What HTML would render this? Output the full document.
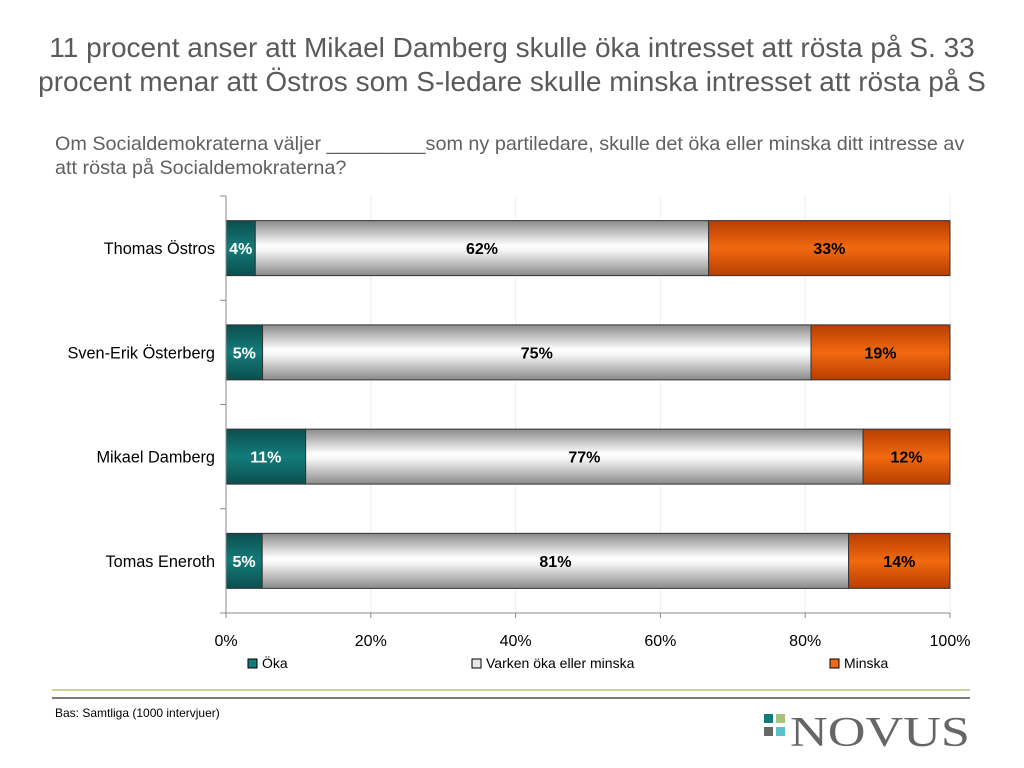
<!DOCTYPE html>
<html><head><meta charset="utf-8"><style>
body{margin:0;width:1024px;height:768px;background:#fff;font-family:"Liberation Sans",sans-serif;position:relative;overflow:hidden}
.t{position:absolute;left:0;width:1024px;text-align:center;top:31px;font-size:28px;line-height:34px;color:#5a5a5a;white-space:nowrap}
.q{position:absolute;left:55px;top:132px;font-size:19.8px;line-height:24px;color:#606060;width:960px;white-space:nowrap}
</style></head><body>
<div class="t">11 procent anser att Mikael Damberg skulle öka intresset att rösta på S. 33<br>procent menar att Östros som S-ledare skulle minska intresset att rösta på S</div>
<div class="q">Om Socialdemokraterna väljer _________som ny partiledare, skulle det öka eller minska ditt intresse av<br>att rösta på Socialdemokraterna?</div>
<svg id="chart" width="1024" height="768" style="position:absolute;left:0;top:0">
<defs>
<linearGradient id="gT" x1="0" y1="0" x2="0" y2="1"><stop offset="0" stop-color="#0b4f4f"/><stop offset="0.5" stop-color="#137c7a"/><stop offset="1" stop-color="#0b4f4f"/></linearGradient>
<linearGradient id="gG" x1="0" y1="0" x2="0" y2="1"><stop offset="0" stop-color="#8a8a8a"/><stop offset="0.45" stop-color="#ffffff"/><stop offset="0.55" stop-color="#f4f4f4"/><stop offset="1" stop-color="#8a8a8a"/></linearGradient>
<linearGradient id="gO" x1="0" y1="0" x2="0" y2="1"><stop offset="0" stop-color="#b83d00"/><stop offset="0.5" stop-color="#f26a10"/><stop offset="1" stop-color="#b83d00"/></linearGradient>
</defs>
<g id="grid"></g><g id="bars"></g><g id="axes"></g>
<line x1="52" y1="690" x2="970" y2="690" stroke="#c5d49a" stroke-width="2"/>
<line x1="52" y1="698" x2="970" y2="698" stroke="#7a7a80" stroke-width="2"/>
<text x="55" y="717" font-size="12" fill="#000">Bas: Samtliga (1000 intervjuer)</text>
<g>
<rect x="764" y="714" width="9" height="9" fill="#137c7a"/><rect x="776" y="714" width="9" height="9" fill="#a9c27a"/>
<rect x="764" y="727" width="9" height="9" fill="#666"/><rect x="776" y="727" width="9" height="9" fill="#5bc0cc"/>
<text x="790" y="746" font-family="Liberation Serif,serif" font-size="42" fill="#666" textLength="180" lengthAdjust="spacingAndGlyphs">NOVUS</text>
</g>
</svg>
<script>
const categories=["Thomas Östros","Sven-Erik Österberg","Mikael Damberg","Tomas Eneroth"];
const oka=[4,5,11,5];
const varken=[62,75,77,81];
const minska=[33,19,12,14];
const xTicks=[0,20,40,60,80,100];
const legendLabels=["Öka","Varken öka eller minska","Minska"];
const NS="http://www.w3.org/2000/svg";
const x0=226,x1=950,yTop=196,yBot=613;
const xs=v=>x0+(x1-x0)*v/100;
const band=(yBot-yTop)/categories.length;
const yc=i=>yTop+band*(i+0.5);
function mk(t,a,p){const e=document.createElementNS(NS,t);for(const k in a)e.setAttribute(k,a[k]);p.appendChild(e);return e;}
const grid=document.getElementById('grid'),bars=document.getElementById('bars'),axes=document.getElementById('axes');
xTicks.forEach((t,i)=>{
 if(t>0){const g=mk('line',{x1:xs(t),x2:xs(t),y1:yTop,y2:yBot,stroke:'#eeeeee'},grid);
 
 }
 const l=mk('text',{x:xs(t),y:646,'font-size':16,'text-anchor':'middle',fill:'#000'},axes);l.textContent=t+'%';
 
 
 mk('line',{x1:xs(t),x2:xs(t),y1:yBot,y2:yBot+5,stroke:'#888'},axes);
});
const series=[[oka,'url(#gT)','#fff'],[varken,'url(#gG)','#000'],[minska,'url(#gO)','#000']];
const names=['bar-oka','bar-varken','bar-minska'];
categories.forEach((c,i)=>{
 const lab=mk('text',{x:215,y:yc(i)+6,'font-size':16.3,'text-anchor':'end',fill:'#000'},axes);lab.textContent=c;
 
 
 let acc=0;const h=55;
 const total=oka[i]+varken[i]+minska[i];
 series.forEach((s,j)=>{
  const v=s[0][i];let a=xs(acc*100/total),b=xs(j==2?100:(acc+v)*100/total);
  const r=mk('rect',{x:a,y:yc(i)-h/2,width:b-a,height:h,fill:s[1],stroke:'#333','stroke-width':1},bars);
  
  
  const tx=mk('text',{x:(a+b)/2,y:yc(i)+6,'font-size':16,'font-weight':'bold','text-anchor':'middle',fill:s[2]},bars);
  tx.textContent=v+'%';
  
  
  acc+=v;
 });
});
for(let i=0;i<=categories.length;i++){mk('line',{x1:220,x2:226,y1:yTop+band*i,y2:yTop+band*i,stroke:'#888'},axes);}
mk('line',{x1:x0,x2:x0,y1:yTop,y2:yBot,stroke:'#888'},axes);
mk('line',{x1:x0,x2:x1,y1:yBot,y2:yBot,stroke:'#888'},axes);
const lx=[248,472,830],fills=['#137c7a','#e8e8e8','#f26a10'];
legendLabels.forEach((t,i)=>{
 const sw=mk('rect',{x:lx[i],y:659,width:9,height:9,fill:fills[i],stroke:'#000'},axes);
 
 
 const tt=mk('text',{x:lx[i]+14,y:668,'font-size':14,fill:'#000'},axes);tt.textContent=t;
 
 
});
</script>
</body></html>
